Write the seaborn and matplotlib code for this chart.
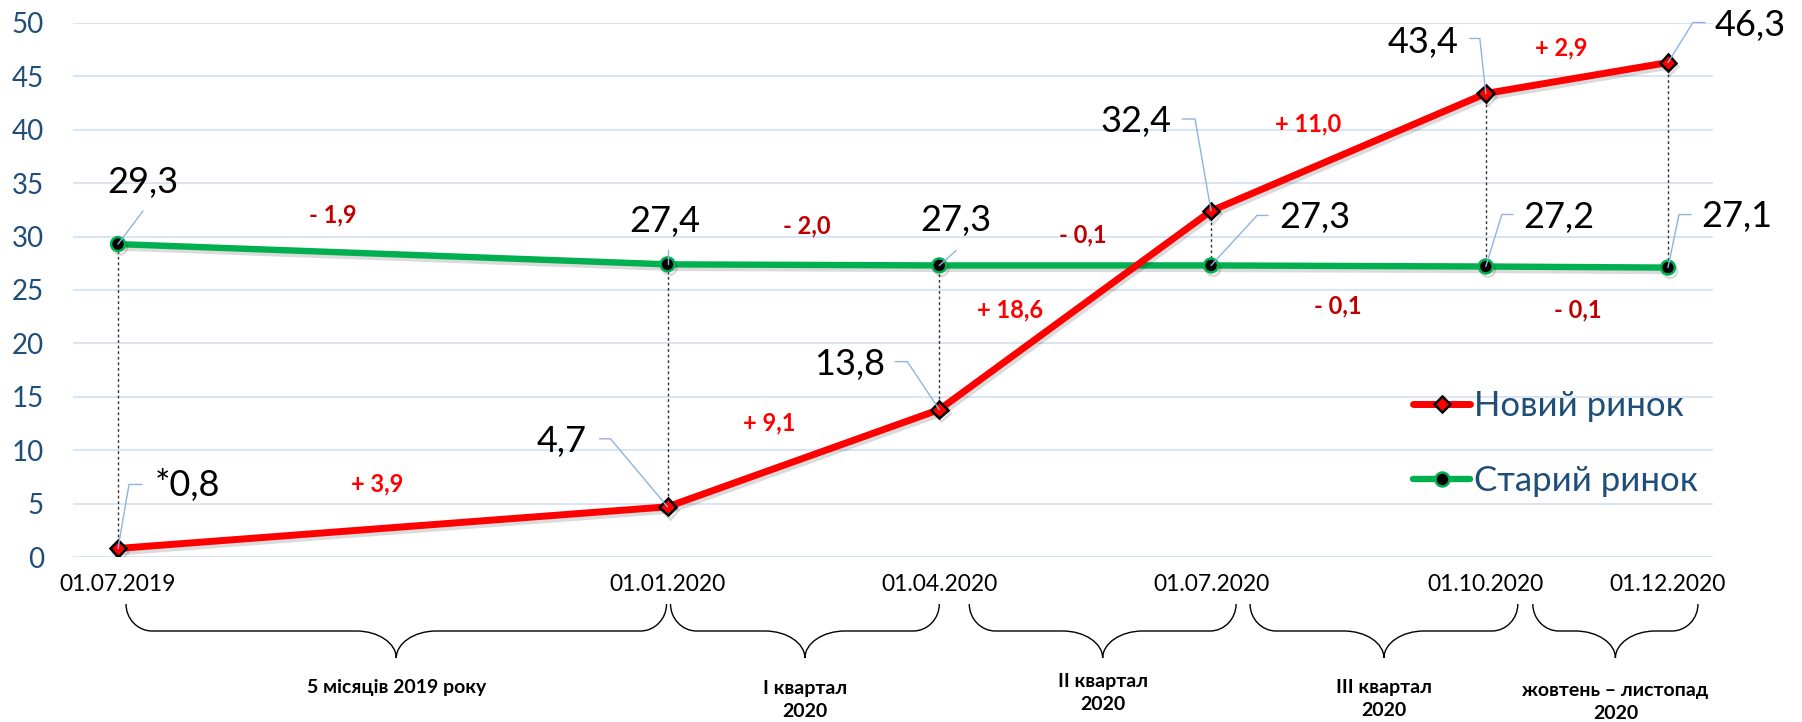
import numpy as np
import pandas as pd
import matplotlib
matplotlib.use("Agg")
import matplotlib.pyplot as plt
import matplotlib.dates as mdates
import matplotlib.patheffects as pe
from matplotlib.path import Path
from matplotlib.patches import PathPatch
from matplotlib.lines import Line2D
from matplotlib.transforms import IdentityTransform
import seaborn as sns

# ---------------- data ----------------
dates = ["2019-07-01", "2020-01-01", "2020-04-01", "2020-07-01", "2020-10-01", "2020-12-01"]
new_market = [0.8, 4.7, 13.8, 32.4, 43.4, 46.3]
old_market = [29.3, 27.4, 27.3, 27.3, 27.2, 27.1]
new_labels = ["*0,8", "4,7", "13,8", "32,4", "43,4", "46,3"]
old_labels = ["29,3", "27,4", "27,3", "27,3", "27,2", "27,1"]
new_changes = ["+ 3,9", "+ 9,1", "+ 18,6", "+ 11,0", "+ 2,9"]
old_changes = ["- 1,9", "- 2,0", "- 0,1", "- 0,1", "- 0,1"]
series_names = ["Новий ринок", "Старий ринок"]
period_labels = ["5 місяців 2019 року", "I квартал\n2020", "II квартал\n2020",
                 "III квартал\n2020", "жовтень – листопад\n2020"]
y_ticks = [0, 5, 10, 15, 20, 25, 30, 35, 40, 45, 50]

# ---------------- style ----------------
RED = "#FF0000"
GREEN = "#00B050"
DARKRED = "#C00000"
BLUE_TXT = "#1F4E79"
GRID = "#D6E2F3"
LEADER = "#8EB4E3"

sns.set_theme(style="white")
plt.rcParams["font.family"] = ["Lato", "Noto Sans", "DejaVu Sans"]

W, H = 1802, 722
fig = plt.figure(figsize=(W / 100, H / 100), dpi=100)
ax = fig.add_axes([73 / W, 1 - 557 / H, (1713 - 73) / W, (557 - 23) / H])

df = pd.DataFrame({"date": pd.to_datetime(dates), "new": new_market, "old": old_market})
xnum = mdates.date2num(df["date"])

ax.set_xlim(xnum[0] - 15.07, xnum[-1] + 15.07)
ax.set_ylim(0, 50)

shadow = [pe.SimpleLineShadow(offset=(1.5, -2.5), shadow_color="black", alpha=0.14), pe.Normal()]

# dotted connectors between the two series
ax.vlines(df["date"], df["new"], df["old"], colors="#333333", linestyles=(0, (2, 2)),
          linewidth=1.0, zorder=2)

sns.lineplot(data=df, x="date", y="old", ax=ax, color=GREEN, linewidth=4.6,
             marker="o", markersize=10, markerfacecolor="black", markeredgecolor=GREEN,
             markeredgewidth=1.8, label=series_names[1], zorder=3, path_effects=shadow)
sns.lineplot(data=df, x="date", y="new", ax=ax, color=RED, linewidth=5.0,
             marker="D", markersize=8.5, markerfacecolor=RED, markeredgecolor="black",
             markeredgewidth=1.8, label=series_names[0], zorder=4, path_effects=shadow)

ax.set_yticks(y_ticks)
ax.set_yticklabels([str(v) for v in y_ticks], color=BLUE_TXT, fontsize=20)
ax.set_xticks(df["date"])
ax.set_xticklabels([d.strftime("%d.%m.%Y") for d in df["date"]], fontsize=16.5, color="black")
ax.tick_params(axis="y", length=0, pad=21)
ax.tick_params(axis="x", length=0, pad=12)
ax.grid(axis="y", color=GRID, linewidth=1.3)
ax.grid(axis="x", visible=False)
for s in ax.spines.values():
    s.set_visible(False)
ax.set_xlabel("")
ax.set_ylabel("")

# legend
handles = [Line2D([], [], color=RED, lw=5, marker="D", markersize=8.5, markerfacecolor=RED,
                  markeredgecolor="black", markeredgewidth=1.8),
           Line2D([], [], color=GREEN, lw=4.6, marker="o", markersize=10, markerfacecolor="black",
                  markeredgecolor=GREEN, markeredgewidth=1.8)]
ax.legend(handles, series_names, loc="upper left", bbox_to_anchor=(1413 / W, 1 - 390 / H),
          bbox_transform=fig.transFigure, frameon=False, fontsize=25, labelcolor=BLUE_TXT,
          handlelength=1.65, handletextpad=0.12, labelspacing=1.25, borderpad=0, borderaxespad=0)

fig.canvas.draw()


def disp(i, v):
    return ax.transData.transform((xnum[i], v))


# ---------------- value labels with leaders ----------------
new_text_off = [(69, 63), (-106, 65), (-90, 45), (-75, 89), (-63, 51), (82, 37)]
old_text_off = [(25, 62), (-3, 43), (17, 45), (104, 48), (73, 49), (69, 51)]
new_leaders = [[(24, 64), (11, 64), (0, 0)], [(-68, 68), (-57, 68), (0, 0)],
               [(-44, 48), (-32, 48), (0, 0)], [(-29, 92), (-16, 92), (0, 0)],
               [(-16, 55), (-6, 55), (0, 0)], [(37, 40), (25, 40), (0, 0)]]
old_leaders = [[(25, 33), (0, 0)], [(0, 14), (0, 0)], [(17, 15), (0, 0)],
               [(57, 50), (46, 50), (0, 0)], [(27, 52), (16, 52), (0, 0)],
               [(23, 53), (11, 53), (0, 0)]]

for vals, labs, toffs, leads in [(new_market, new_labels, new_text_off, new_leaders),
                                 (old_market, old_labels, old_text_off, old_leaders)]:
    for i, (v, lab) in enumerate(zip(vals, labs)):
        px, py = disp(i, v)
        dx, dy = toffs[i]
        fig.text(px + dx, py + dy, lab, transform=IdentityTransform(), ha="center",
                 va="center", fontsize=26, color="black")
        pts = np.array([(px + a, py + b) for a, b in leads[i]])
        fig.add_artist(Line2D(pts[:, 0], pts[:, 1], transform=IdentityTransform(),
                              color=LEADER, lw=1.0, zorder=6))

# ---------------- change labels ----------------
new_chg_off = [(-16, 44), (-34, 35), (-65, 0), (-40, 28), (-16, 30)]
old_chg_off = [(-60, 39), (3, 39), (8, 31), (-11, -40), (1, -43)]
for vals, labs, offs, col in [(new_market, new_changes, new_chg_off, RED),
                              (old_market, old_changes, old_chg_off, DARKRED)]:
    for i, lab in enumerate(labs):
        p0 = disp(i, vals[i])
        p1 = disp(i + 1, vals[i + 1])
        mx, my = (p0 + p1) / 2
        fig.text(mx + offs[i][0], my + offs[i][1], lab, transform=IdentityTransform(),
                 ha="center", va="center", fontsize=17, fontweight="bold", color=col)

# ---------------- braces under the axis ----------------
brace_px = [(8, -1), (3, 0), (30, 25), (39, 32), (47, 30)]   # pixel shifts of ends
brace_y = (604, 631, 658)                                   # image-row: top, bar, tip
label_y = [688, 700, 693, 699, 702]


def brace(x0, x1, ytop, ybar, ytip):
    Y = lambda y: H - y
    r = 26.0
    m = 40.0
    xm = (x0 + x1) / 2
    hgt = ybar - ytop
    d = ytip - ybar
    verts = [(x0, Y(ytop)),
             (x0, Y(ytop + 0.55 * hgt)), (x0 + 0.45 * r, Y(ybar)), (x0 + r, Y(ybar)),
             (xm - m, Y(ybar)),
             (xm - 0.45 * m, Y(ybar)), (xm, Y(ybar + 0.45 * d)), (xm, Y(ytip)),
             (xm, Y(ybar + 0.45 * d)), (xm + 0.45 * m, Y(ybar)), (xm + m, Y(ybar)),
             (x1 - r, Y(ybar)),
             (x1 - 0.45 * r, Y(ybar)), (x1, Y(ytop + 0.55 * hgt)), (x1, Y(ytop))]
    codes = [Path.MOVETO, Path.CURVE4, Path.CURVE4, Path.CURVE4, Path.LINETO,
             Path.CURVE4, Path.CURVE4, Path.CURVE4, Path.CURVE4, Path.CURVE4, Path.CURVE4,
             Path.LINETO, Path.CURVE4, Path.CURVE4, Path.CURVE4]
    return Path(verts, codes)


for i, lab in enumerate(period_labels):
    xa = disp(i, 0)[0] + brace_px[i][0]
    xb = disp(i + 1, 0)[0] + brace_px[i][1]
    fig.add_artist(PathPatch(brace(xa, xb, *brace_y), transform=IdentityTransform(),
                             fill=False, edgecolor="black", lw=1.0))
    fig.text((xa + xb) / 2, H - label_y[i], lab, transform=IdentityTransform(), ha="center",
             va="center", fontsize=14, fontweight="bold", color="black", linespacing=1.45)

fig.savefig("out.png", dpi=100)
